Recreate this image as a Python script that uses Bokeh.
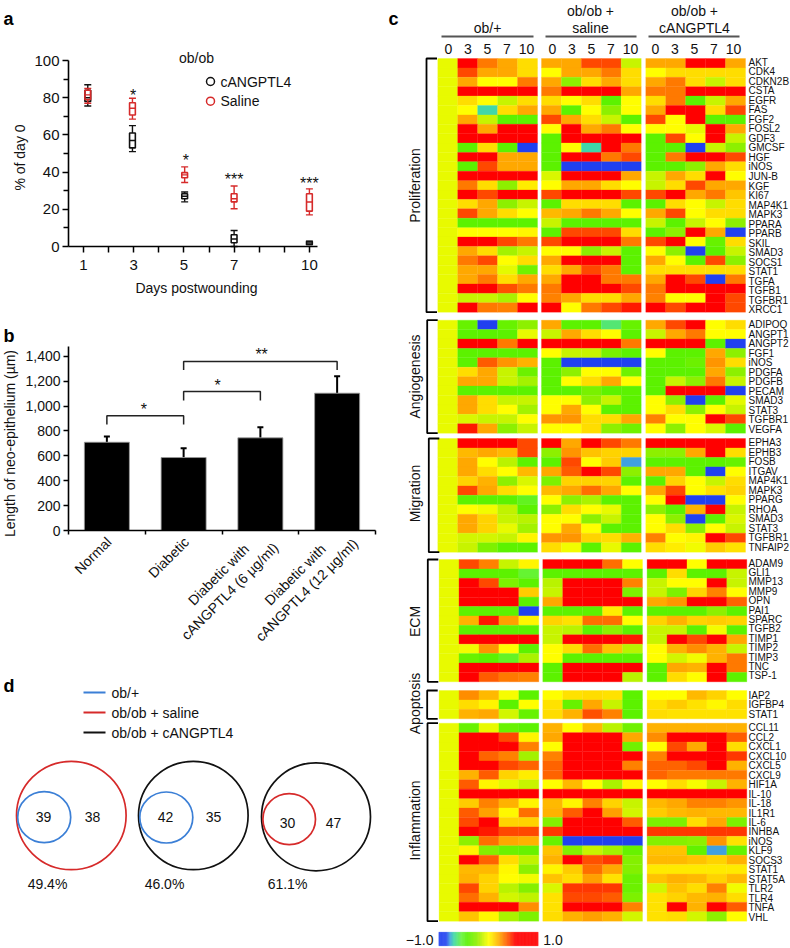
import numpy as np
from bokeh.core.properties import value
from bokeh.embed import file_html
from bokeh.layouts import column, row
from bokeh.models import ColumnDataSource, FixedTicker, Label, LinearColorMapper, NumeralTickFormatter, Range1d
from bokeh.plotting import figure
from bokeh.resources import INLINE

FONT = "Liberation Sans"

# ---------------- panel a data
days_major = [1, 3, 5, 7, 10]
days_minor = [2, 4, 6, 8, 9]
box_x_black = [1.17, 2.95, 5.03, 7.0, 10.0]
black_low = [75.5, 51, 24, 0, 1]
black_q1 = [78, 53, 25.7, 2, 1.1]
black_med = [80, 57, 27, 4, 1.9]
black_q3 = [84, 61, 28.4, 6.3, 2.7]
black_high = [87, 65, 29.3, 8.6, 2.9]
box_x_red = [1.17, 2.95, 5.03, 7.0, 10.0]
red_low = [77, 68.5, 34.4, 20.3, 17]
red_q1 = [79, 70.7, 37, 24, 19]
red_med = [81.5, 74.3, 38.5, 25.7, 23.9]
red_q3 = [84, 77.3, 39.7, 28.4, 28.4]
red_high = [85, 79.7, 42.8, 32.5, 31]
star_a_x = [2.98, 5.08, 7.0, 10.0]
star_a_y = [81.8, 46.8, 36.3, 34.5]
star_a_text = ["*", "*", "***", "***"]

# ---------------- panel b data
bar_names = ["Normal", "Diabetic", "Diabetic with cANGPTL4 (6 µg/ml)", "Diabetic with cANGPTL4 (12 µg/ml)"]
bar_values = [709, 586, 744, 1103]
bar_err_top = [755, 661, 830, 1239]
brk_x = [[0, 0, 1, 1], [1, 1, 2, 2], [1, 1, 3, 3]]
brk_y = [[851, 921, 921, 851], [1044, 1116, 1116, 1044], [1290, 1357, 1357, 1290]]
star_b_x = [0.483, 1.443, 2.016]
star_b_y = [982, 1172, 1419]
star_b_text = ["*", "*", "**"]

# ---------------- panel d data
venn_counts = [["39", "38"], ["42", "35"], ["30", "47"]]
venn_pct = ["49.4%", "46.0%", "61.1%"]

# ---------------- panel c data
col_days = ["0", "3", "5", "7", "10"]
genes_prolif = ["AKT", "CDK4", "CDKN2B", "CSTA", "EGFR", "FAS", "FGF2", "FOSL2", "GDF3", "GMCSF", "HGF", "iNOS", "JUN-B", "KGF", "KI67", "MAP4K1", "MAPK3", "PPARA", "PPARB", "SKIL", "SMAD3", "SOCS1", "STAT1", "TGFA", "TGFB1", "TGFBR1", "XRCC1"]
vals_prolif = [
    [-.05,.8,.32,.22,.1, .22,.22,.42,.42,-.12, .22,.22,.8,.8,.22],
    [-.05,.42,.22,.22,.1, 0,.22,.22,.32,.1, 0,.1,.1,.1,.1],
    [-.05,.22,0,0,.32, .22,-.25,.1,.22,.1, .22,.32,.1,-.12,.1],
    [-.05,.8,.8,.8,.8, .32,.8,.8,.8,.22, .32,.32,.8,.8,.8],
    [-.05,.1,0,-.12,.1, .1,0,.1,-.42,0, .1,.32,-.42,-.12,.22],
    [-.05,0,-.7,.1,.22, .22,-.42,0,-.25,0, .22,.8,.8,.1,.42],
    [-.05,.22,-.12,-.42,-.42, .42,.22,.1,-.12,-.42, .42,0,.8,-.42,-.42],
    [-.05,.8,.22,.8,.8, 0,.8,.22,.32,0, 0,0,-.05,.8,.22],
    [-.05,.8,.8,.8,.8, -.42,.8,.8,.8,.8, -.42,.42,0,.8,-.12],
    [-.05,-.42,.1,-.42,-1, -.42,0,-.7,.8,.32, -.42,-.42,-1,-.12,-.25],
    [-.05,.8,.8,.22,.22, -.42,.8,.8,.32,.42, -.42,.32,.8,.8,.42],
    [-.05,-.42,.42,.22,.22, -.42,-1,-1,-1,-1, -.42,-.42,-.25,.22,.1],
    [-.05,.8,.8,.8,.8, -.08,.8,.8,.8,.22, -.12,.22,.1,.8,0],
    [-.05,.32,.1,-.25,.05, 0,.22,.22,.1,0, -.12,.1,.42,.22,.22],
    [-.05,.8,.42,.8,.8, .42,.8,.8,.8,.42, .42,.8,.22,.32,.15],
    [-.05,.1,.22,-.25,-.12, -.42,.1,.1,.1,-.42, -.42,.1,0,-.12,.1],
    [-.05,.42,.22,.1,0, .18,.22,.32,.22,0, .22,.42,0,.1,.1],
    [-.05,-.42,-.42,-.42,-.42, -.12,-.42,-.42,-.42,-.42, -.12,-.42,-.12,0,-.25],
    [-.05,0,0,0,.03, -.42,.42,.42,.42,.1, -.42,-.25,.8,.22,-1],
    [-.05,.8,.8,.42,.32, .42,.8,.8,.8,.32, .42,.8,0,-.38,.1],
    [-.05,.22,.1,-.2,-.12, 0,0,-.25,-.12,-.42, 0,-.25,-1,-.42,-.12],
    [-.05,.32,.42,0,.1, .22,.8,.8,.6,-.42, .22,0,-.42,.42,-.25],
    [-.05,.22,.22,-.06,-.35, .1,.22,.42,.32,-.42, .1,.1,.1,.1,.1],
    [-.05,.22,.32,.1,.22, .22,.8,.8,.32,.32, .22,.8,.42,-1,.32],
    [-.05,.8,.8,.4,.32, .32,.8,.8,.8,.42, .32,.8,.8,.8,.8],
    [-.05,-.12,-.12,-.18,0, .3,.22,.1,.1,.22, .3,0,0,.8,.42],
    [-.05,.8,.32,.3,.8, .8,0,.32,.42,.5, .8,.42,.8,.8,.42],
]
genes_angio = ["ADIPOQ", "ANGPT1", "ANGPT2", "FGF1", "iNOS", "PDGFA", "PDGFB", "PECAM", "SMAD3", "STAT3", "TGFBR1", "VEGFA"]
vals_angio = [
    [-.05,-.38,-1,-.38,-.25, .22,-.42,-.42,-.62,-.38, .22,.42,.8,0,.1],
    [-.05,-.42,-.42,-.42,-.05, -.12,.22,.1,0,-.42, -.12,.22,.32,0,0],
    [-.05,.8,.8,.32,.8, .8,.8,.8,.8,.32, .8,.8,.8,-.42,-1],
    [-.05,-.42,-.42,-.42,-.42, 0,-.12,-.12,-.32,-.42, 0,-.42,-.42,.22,-.25],
    [-.05,-.42,.38,.26,.2, -.42,-1,-1,-1,-1, -.42,-.42,-.36,.26,.1],
    [-.05,.1,.22,-.12,-.36, -.42,-.25,0,0,-.35, -.42,-.42,-.42,.22,-.25],
    [-.05,.22,.22,-.12,-.2, -.42,0,.1,.22,0, -.42,-.12,-.25,.32,-.12],
    [-.05,-.42,-.42,-.42,-.42, -.42,-.42,-.32,-.42,-.42, -.42,.8,.8,.8,-1],
    [-.05,.22,.1,-.12,-.12, 0,0,-.25,-.12,-.42, 0,-.25,-1,-.42,-.06],
    [-.05,.22,.1,0,-.2, 0,.22,0,-.42,-.42, 0,.1,-.25,0,-.12],
    [-.05,-.08,-.12,-.12,0, .26,.26,.1,.1,.22, .3,0,0,.8,.42],
    [-.05,.5,.22,-.25,-.12, 0,0,.1,-.25,-.35, 0,-.25,0,-.08,-.42],
]
genes_migr = ["EPHA3", "EPHB3", "FOSB", "ITGAV", "MAP4K1", "MAPK3", "PPARG", "RHOA", "SMAD3", "STAT3", "TGFBR1", "TNFAIP2"]
vals_migr = [
    [-.05,.8,.8,.8,.42, .8,.22,.8,.42,.32, .8,.8,.8,.8,.8],
    [-.05,.18,.22,.18,.42, -.25,.26,.16,.12,.12, -.25,-.25,.22,.8,.1],
    [-.05,.22,0,-.15,-.42, -.42,.42,0,.14,-.78, -.42,-.42,-.42,-.42,-.38],
    [-.05,.22,.1,0,.18, .22,.38,.8,.42,-.25, .22,.22,-.42,-1,0],
    [-.05,.12,.2,-.25,-.08, -.3,.12,.12,.12,-.42, -.42,.12,0,-.12,.1],
    [-.05,.42,.22,.1,0, .18,.22,.34,.22,0, .22,.42,0,.08,.12],
    [-.05,-.42,-.42,-.42,-.48, 0,-.25,-.18,-.42,-.42, 0,.8,-1,-1,0],
    [-.05,0,-.03,-.14,-.42, -.25,.1,0,-.05,-.42, -.25,-.42,.2,.8,-.12],
    [-.05,.22,.12,-.12,-.15, 0,0,-.25,-.12,-.42, 0,-.25,-1,-.42,-.08],
    [-.05,.22,.12,-.05,-.2, 0,.22,0,-.42,-.42, 0,.1,-.25,0,-.12],
    [-.05,-.1,-.1,-.12,.03, .26,.26,.12,.1,.2, .3,0,.03,.8,.42],
    [-.05,-.12,-.3,-.42,-.42, .1,-.03,-.42,-.05,-.42, .1,.05,-.03,.14,.08],
]
genes_ecm = ["ADAM9", "GLI1", "MMP13", "MMP9", "OPN", "PAI1", "SPARC", "TGFB2", "TIMP1", "TIMP2", "TIMP3", "TNC", "TSP-1"]
vals_ecm = [
    [-.05,.42,.3,-.12,.03, .6,.8,.8,.34,0, .6,.8,0,.8,.8],
    [-.05,-.42,-.42,-.42,-.52, -.42,-.42,-.42,-.42,-.42, -.42,.1,-.42,-.42,-.12],
    [-.05,.8,.42,-.3,-.42, -.15,.8,.8,.8,.3, -.12,0,0,.8,-.12],
    [-.05,.8,.8,.6,.14, -.12,.8,.8,.8,-.3, -.12,-.3,.12,.3,0],
    [-.05,.8,.8,.8,-.42, .22,.8,.8,.8,.8, .22,.26,.8,.8,.36],
    [-.05,-.42,-.42,-.42,-1, -.42,-.42,-.42,.05,-.42, -.42,-.42,-.42,-.25,-.42],
    [-.05,.2,.5,.24,.03, .12,.08,.34,.34,0, .12,.2,.12,.14,.12],
    [-.05,-.42,-.42,-.42,-.42, -.12,-.15,-.42,-.25,-.42, -.12,-.12,-.42,-.03,-.42],
    [-.05,.8,.8,.8,.8, -.12,.8,.8,.8,.5, -.12,.8,.42,.8,.22],
    [-.05,-.03,.26,0,-.42, 0,.1,.34,.16,-.15, 0,.2,.28,.2,-.12],
    [-.05,-.38,-.42,-.5,-.18, 0,-.42,-.42,-.42,-.42, 0,-.1,-.03,.2,.32],
    [-.05,.8,.8,.8,.8, -.42,.8,.8,.8,.8, -.42,.22,.2,.8,.32],
    [-.05,.8,.38,.32,.3, -.42,.8,.55,.8,-.15, -.42,.1,0,.8,-.42],
]
genes_apop = ["IAP2", "IGFBP4", "STAT1"]
vals_apop = [
    [-.05,.28,.18,-.02,-.42, 0,.08,.1,.08,-.42, 0,0,.18,.12,0],
    [-.05,.1,.03,-.42,0, .08,-.38,.22,-.12,-.42, .08,.14,.08,.02,.1],
    [-.05,.2,.22,-.1,-.38, .1,.2,.4,.3,-.42, .1,.08,.08,.08,.08],
]
genes_infl = ["CCL11", "CCL2", "CXCL1", "CXCL10", "CXCL5", "CXCL9", "HIF1A", "IL-10", "IL-18", "IL1R1", "IL-6", "INHBA", "iNOS", "KLF9", "SOCS3", "STAT1", "STAT5A", "TLR2", "TLR4", "TNFA", "VHL"]
vals_infl = [
    [-.05,-.38,-.05,-.38,-.42, .2,0,.18,-.15,-.35, .2,.2,.2,.2,.2],
    [-.05,.8,.8,.42,.03, .22,.8,.8,.8,.22, .28,.7,.7,.7,.38],
    [-.05,.8,.8,.8,.3, 0,.8,.8,.8,-.35, 0,.42,.22,.7,.1],
    [-.05,.8,.36,.3,-.2, .3,.8,.8,.8,.7, .3,.6,.55,.7,.45],
    [-.05,.8,.8,.42,.36, .36,.8,.8,.8,.3, .36,.36,.42,.6,.2],
    [-.05,.2,.38,.12,.05, .36,.6,.7,.7,.7, .36,.32,.32,.32,.32],
    [-.05,.38,.03,-.06,-.12, 0,.18,0,-.18,.03, 0,.1,-.02,-.12,.2],
    [-.05,.8,.8,.8,.8, .8,.8,.8,.8,.8, .8,.8,.8,.8,.8],
    [-.05,.14,.3,.2,.03, .18,.03,.3,.12,-.12, .18,.22,.3,.3,.26],
    [-.05,.38,.24,.02,.34, .2,.38,.6,.24,-.1, .14,.18,.2,.18,.18],
    [-.05,.42,.55,.12,.12, -.28,.6,.6,.6,.38, -.3,-.3,.1,.22,-.3],
    [-.05,.7,.5,.42,.42, .45,.8,.8,.8,.7, .45,.45,.45,.45,.45],
    [-.05,-.25,.34,.22,.2, -.38,-1,-1,-1,-1, -.28,-.28,-.25,.26,.08],
    [-.05,.03,-.28,-.36,-.38, .16,-.28,-.12,-.2,-.38, .16,.16,-.4,-.78,-.38],
    [-.05,.8,.36,.1,-.14, .2,.7,.4,.45,-.28, .18,.18,.16,.12,.2],
    [-.05,.18,.18,.02,-.25, .03,.14,.34,.22,-.28, .06,.06,.06,.06,.06],
    [-.05,.2,.12,0,-.03, .16,.1,.24,.08,-.36, .16,.2,.18,.12,.18],
    [-.05,.42,.12,-.15,-.28, -.08,.45,.45,.45,-.36, -.1,.16,.1,.3,-.03],
    [-.05,.34,.2,-.1,-.14, .08,.42,.42,.38,-.3, .08,.12,.18,.2,.1],
    [-.05,.7,.7,.7,.28, .08,.7,.7,.7,.3, .08,.6,.2,.7,.38],
    [-.05,.16,.02,-.18,-.3, .1,.2,.24,.2,-.1, .08,.1,-.1,-.25,0],
]
block_names = ["Proliferation", "Angiogenesis", "Migration", "ECM", "Apoptosis", "Inflammation"]
block_genes = [genes_prolif, genes_angio, genes_migr, genes_ecm, genes_apop, genes_infl]
block_vals = [vals_prolif, vals_angio, vals_migr, vals_ecm, vals_apop, vals_infl]

# ---------------- layout constants (pixels)
block_top = [58, 319.7, 438, 559, 690, 722.7]
block_bot = [311.7, 432.7, 551.7, 681.3, 718.3, 920.7]
block_dx = [0, 0, 0, 1.3, 1.3, 1.3]
block_brk_x = [426, 426.7, 428.3, 427.3, 426.7, 427]
block_label_y = [185, 376, 493, 621, 703, 820]
gene_first_y = [61.7, 324.3, 442, 562.7, 694.7, 727.3]
gene_last_y = [309.3, 429, 546.7, 675.3, 713.7, 916.7]
group_left = [437.3, 541, 645.3]
CELL_W = 19.94

stops_v = [-1, -.85, -.78, -.7, -.55, -.42, -.25, -.12, 0, .1, .22, .32, .42, .55, 1]
stops_c = ["#2040f0", "#2848f0", "#40a0e0", "#40d8a8", "#68f440", "#5cf200", "#8cf000", "#c8f400", "#ffff00",
           "#ffdc00", "#ffaa00", "#ff7800", "#ff4800", "#ff0000", "#ff0000"]
def _hex2rgb(h):
    return [int(h[i:i + 2], 16) for i in (1, 3, 5)]
_rgb = np.array([_hex2rgb(c) for c in stops_c], float)
_lv = np.linspace(-1, 1, 256)
palette = ["#%02x%02x%02x" % tuple(int(round(np.interp(v, stops_v, _rgb[:, k]))) for k in range(3)) for v in _lv]
mapper = LinearColorMapper(palette=palette, low=-1, high=1)


def make_fig(w, h, xr, yr, axes=False):
    f = figure(width=w, height=h, x_range=Range1d(*xr), y_range=Range1d(*yr), toolbar_location=None,
               output_backend="svg", min_border_left=0, min_border_right=0, min_border_top=0,
               min_border_bottom=0, outline_line_color=None, background_fill_color=None,
               border_fill_color=None, x_axis_location="below" if axes else None,
               y_axis_location="left" if axes else None, frame_align=False)
    f.grid.visible = False
    return f


def lab(f, x, y, text, size=14, color="#111111", align="left", base="middle", angle=0, bold=False):
    # x, y are pixels inside the figure's canvas
    f.add_layout(Label(x=x, y=y, x_units="canvas", y_units="canvas", text=text, text_font=FONT,
                       text_font_size=f"{size}px", text_color=color,
                       text_align=align, text_baseline=base, angle=angle, angle_units="deg",
                       text_font_style="bold" if bold else "normal"))


def style_axis(ax, out=6, minor_out=None, font=14):
    ax.axis_line_color = "#000000"
    ax.axis_line_width = 1.6
    ax.major_tick_line_color = "#000000"
    ax.major_tick_line_width = 1.5
    ax.minor_tick_line_color = "#000000"
    ax.minor_tick_line_width = 1.5
    ax.major_tick_in = 0
    ax.major_tick_out = out
    ax.minor_tick_in = 0
    ax.minor_tick_out = out - 1 if minor_out is None else minor_out
    ax.major_label_text_font = FONT
    ax.major_label_text_font_size = f"{font}px"
    ax.major_label_text_color = "#111111"


# ---------------- panel a: axes occupy x 68..317, y 60..246 of a 385x300 canvas
AX0, AXS, AYS = 0.402, 25.1, 1.86
a = make_fig(385, 300, (AX0 - 68 / AXS, AX0 + 317 / AXS), ((246 - 300) / AYS, 246 / AYS), axes=True)
style_axis(a.xaxis[0], minor_out=6, font=15)
style_axis(a.yaxis[0], font=15)
a.xaxis[0].fixed_location = 0
a.yaxis[0].fixed_location = AX0
a.xaxis[0].bounds = (AX0, AX0 + 249 / AXS)
a.yaxis[0].bounds = (0, 100)
a.xaxis[0].ticker = FixedTicker(ticks=days_major, minor_ticks=days_minor)
a.xaxis[0].major_label_standoff = 7
a.yaxis[0].ticker = FixedTicker(ticks=[0, 20, 40, 60, 80, 100], minor_ticks=[10, 30, 50, 70, 90])
a.yaxis[0].major_label_standoff = 3


def boxes(f, xs, low, q1, med, q3, high, color):
    bw = 0.23
    xs = np.array(xs)
    f.segment(xs, low, xs, q1, line_color=color, line_width=1.4)
    f.segment(xs, q3, xs, high, line_color=color, line_width=1.4)
    f.scatter(xs, low, marker="dash", size=7, line_color=color, line_width=1.4)
    f.scatter(xs, high, marker="dash", size=7, line_color=color, line_width=1.4)
    f.vbar(xs, width=bw, bottom=q1, top=q3, fill_color=None, line_color=color, line_width=1.6)
    f.segment(xs - bw / 2, med, xs + bw / 2, med, line_color=color, line_width=1.4)


boxes(a, box_x_black, black_low, black_q1, black_med, black_q3, black_high, "#111111")
boxes(a, box_x_red, red_low, red_q1, red_med, red_q3, red_high, "#d62a2a")
a.text(star_a_x, star_a_y, text=star_a_text, text_font=value(FONT), text_font_size="16px", text_color="#111111",
       text_align="center", text_baseline="alphabetic", y_offset=1)
a.scatter([AX0 + (210 - 68) / AXS] * 2, [(246 - 81) / AYS, (246 - 100.7) / AYS], marker="circle", size=8,
          fill_color=None, line_color=["#111111", "#d62a2a"], line_width=1.5)
lab(a, 196, 57.7, "ob/ob", align="center")
lab(a, 220, 81, "cANGPTL4")
lab(a, 220, 100.7, "Saline")
lab(a, 196, 287, "Days postwounding", align="center")
lab(a, 19, 157, "% of day 0", align="center", angle=90)
lab(a, 3, 18.5, "a", size=18, base="alphabetic", bold=True, color="#000000")

# ---------------- panel b: axes occupy x 68..375, page y 346..530; canvas spans page y 300..655
BXS, BYS = 76.75, 0.1245
OB = 300
b = make_fig(385, 355, (-68 / BXS - 0.5, (385 - 68) / BXS - 0.5), ((530 - 655) / BYS, (530 - OB) / BYS), axes=True)
style_axis(b.xaxis[0], out=4, minor_out=4)
style_axis(b.yaxis[0], out=5)
b.xaxis[0].fixed_location = 0
b.yaxis[0].fixed_location = -0.5
b.xaxis[0].bounds = (-0.5, 3.5)
b.yaxis[0].bounds = (0, 184 / BYS)
b.xaxis[0].ticker = FixedTicker(ticks=[], minor_ticks=[-0.5, 0.5, 1.5, 2.5, 3.5])
b.yaxis[0].ticker = FixedTicker(ticks=list(range(0, 1401, 200)))
b.yaxis[0].formatter = NumeralTickFormatter(format="0,0")
b.yaxis[0].major_label_standoff = 3
bar_x = list(range(len(bar_values)))
b.segment(bar_x, bar_values, bar_x, bar_err_top, line_color="#000000", line_width=2)
b.scatter(bar_x, bar_err_top, marker="dash", size=6, line_color="#000000", line_width=2)
b.vbar(bar_x, width=45 / BXS, top=bar_values, bottom=0, fill_color="#000000", line_color="#9a9a9a", line_width=0.8)
b.multi_line(brk_x, brk_y, line_color="#222222", line_width=1.5)
b.text(star_b_x, star_b_y, text=star_b_text, text_font=value(FONT), text_font_size="16px", text_color="#111111",
       text_align="center", text_baseline="alphabetic", y_offset=1)
lab(b, 108.3, 539 - OB, bar_names[0], align="right", angle=45)
lab(b, 186, 539 - OB, bar_names[1], align="right", angle=45)
lab(b, 246, 546 - OB, bar_names[2][:13], align="right", angle=45)
lab(b, 275.3, 544.7 - OB, bar_names[2][14:], align="right", angle=45)
lab(b, 322.7, 546 - OB, bar_names[3][:13], align="right", angle=45)
lab(b, 355, 540.7 - OB, bar_names[3][14:], align="right", angle=45)
lab(b, 9, 443 - OB, "Length of neo-epithelium (µm)", align="center", angle=90)
lab(b, 3, 335 - OB, "b", size=18, base="alphabetic", bold=True, color="#000000")

# ---------------- panel d
OD = 655
d = make_fig(385, 293, (0, 385), (948, OD))
d.segment([83, 83, 83], [692, 712, 732], [105, 105, 105], [692, 712, 732],
          line_color=["#3b7fd6", "#d62a2a", "#111111"], line_width=1.8)
for yy, t in zip([692, 712, 732], ["ob/+", "ob/ob + saline", "ob/ob + cANGPTL4"]):
    lab(d, 111, yy - OD, t)
d.ellipse([70.8, 192.8, 315.5], [815, 815, 816.3], width=[109.6, 109.6, 109], height=[108.4, 108.4, 108],
          fill_color=None, line_color=["#d62a2a", "#111111", "#111111"], line_width=1.7)
d.ellipse([43.7, 165.8, 288.7], [816.7, 817, 818.7], width=[53, 53, 52.6], height=[51, 51, 51],
          fill_color=None, line_color=["#3b7fd6", "#3b7fd6", "#d62a2a"], line_width=1.7)
for (x1, x2, yy), (c1, c2) in zip([(43, 92, 816), (165, 213, 816), (287, 333, 822)], venn_counts):
    lab(d, x1, yy - OD, c1, align="center")
    lab(d, x2, yy - OD, c2, align="center")
for xx, t in zip([47, 164, 287], venn_pct):
    lab(d, xx, 883 - OD, t, align="center")
lab(d, 3, 685 - OD, "d", size=18, base="alphabetic", bold=True, color="#000000")

# ---------------- panel c
XC = 385
c = make_fig(405, 948, (385, 790), (948, 0))
cells = dict(l=[], r=[], t=[], b=[], v=[])
for vals, top, bot, dx in zip(block_vals, block_top, block_bot, block_dx):
    rh = (bot - top) / len(vals)
    for i, rowv in enumerate(vals):
        for j, v in enumerate(rowv):
            g, k = j // 5, j % 5
            x0 = group_left[g] + dx + k * CELL_W
            cells["l"].append(x0)
            cells["r"].append(x0 + CELL_W)
            cells["t"].append(top + i * rh)
            cells["b"].append(top + (i + 1) * rh)
            cells["v"].append(v)
cs = ColumnDataSource(cells)
tr = {"field": "v", "transform": mapper}
c.quad(left="l", right="r", top="t", bottom="b", source=cs, fill_color=tr, line_color=tr, line_width=0.3)

for genes, y0, y1 in zip(block_genes, gene_first_y, gene_last_y):
    ys = np.linspace(y0, y1, len(genes))
    c.text([748] * len(genes), ys, text=genes, text_font=value(FONT), text_font_size="10px",
           text_color="#111111", text_baseline="middle")
for name, top, bot, bx, ly in zip(block_names, block_top, block_bot, block_brk_x, block_label_y):
    c.line([bx + 10.5, bx, bx, bx + 10.5], [top, top, bot, bot], line_color="#000000", line_width=1.8)
    lab(c, 414 - XC, ly, name, align="center", angle=90)

for x0, x1 in [(441, 533), (545, 636), (648, 739)]:
    c.line([x0, x1], [36, 36], line_color="#555555", line_width=1.8)
for x0 in [448, 552, 655]:
    for i, t in enumerate(col_days):
        lab(c, x0 + 19.5 * i - XC, 48, t, align="center")
lab(c, 487 - XC, 27, "ob/+", align="center")
lab(c, 590 - XC, 10, "ob/ob +", align="center")
lab(c, 590 - XC, 27, "saline", align="center")
lab(c, 694 - XC, 10, "ob/ob +", align="center")
lab(c, 694 - XC, 27, "cANGPTL4", align="center")
lab(c, 388 - XC, 18.5, "c", size=18, base="alphabetic", bold=True, color="#000000")

cb_edges = np.linspace(438.3, 537.7, 129)
cb_vals = np.linspace(-1, 1, 128)
c.quad(left=cb_edges[:-1], right=cb_edges[1:], top=931.7, bottom=945.3, fill_color=[palette[int((v + 1) / 2 * 255)] for v in cb_vals],
       line_color=[palette[int((v + 1) / 2 * 255)] for v in cb_vals], line_width=0.3)
lab(c, 433 - XC, 939, "−1.0", align="right")
lab(c, 542.7 - XC, 939, "1.0")

root = row(column(a, b, d, spacing=0), c, spacing=0)
open("out.html", "w").write(file_html(root, INLINE))
